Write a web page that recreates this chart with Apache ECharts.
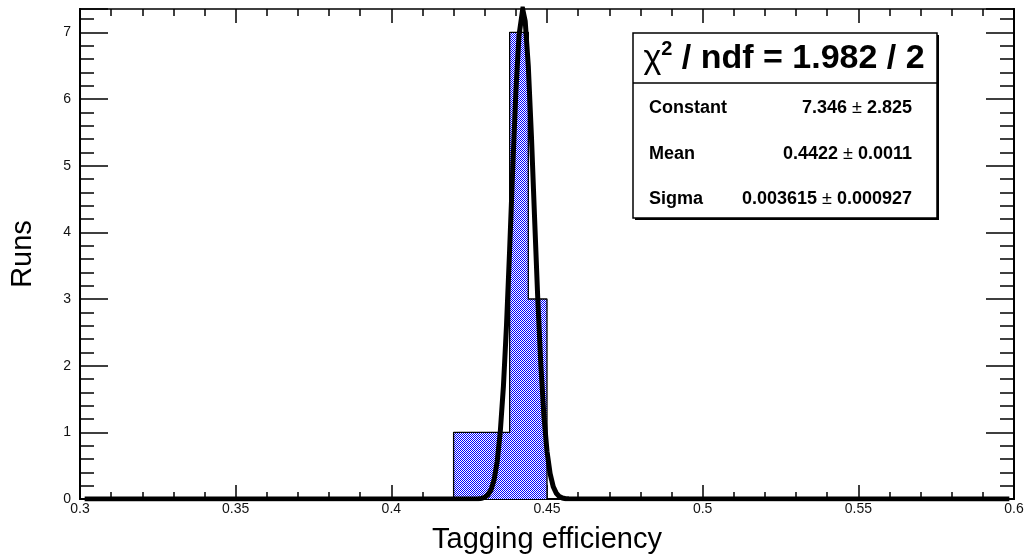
<!DOCTYPE html>
<html><head><meta charset="utf-8">
<script src="https://cdn.jsdelivr.net/npm/echarts@6/dist/echarts.min.js"></script>
<style>html,body{margin:0;padding:0;background:#fff}#c{width:1027px;height:557px}</style>
</head><body><div id="c"></div>
<script>
// ---- data ----
const xRange = [0.3, 0.6];
const yRange = [0, 7.35];
const binEdges = [0.420, 0.426, 0.432, 0.438, 0.444, 0.450];
const binCounts = [1, 1, 1, 7, 3];
const fitX = [0.3015, 0.428, 0.429, 0.430, 0.431, 0.432, 0.433, 0.434, 0.435, 0.436, 0.437, 0.438, 0.439, 0.440, 0.441, 0.4422, 0.443, 0.444, 0.445, 0.446, 0.447, 0.448, 0.449, 0.450, 0.451, 0.452, 0.453, 0.454, 0.455, 0.456, 0.457, 0.5985];
const fitY = [0, 0.003, 0.009, 0.025, 0.061, 0.137, 0.288, 0.561, 1.011, 1.687, 2.611, 3.741, 4.965, 6.104, 6.952, 7.346, 7.168, 6.489, 5.442, 4.228, 3.043, 2.028, 1.252, 0.716, 0.380, 0.186, 0.085, 0.036, 0.014, 0.005, 0.002, 0];
const xTitle = 'Tagging efficiency';
const yTitle = 'Runs';
const statsChi = '1.982 / 2';
const statsNames = ['Constant', 'Mean', 'Sigma'];
const statsValues = ['7.346', '0.4422', '0.003615'];
const statsErrors = ['2.825', '0.0011', '0.000927'];

// ---- rendering ----
const FONT = 'Liberation Sans, Arial, Helvetica, sans-serif';
const chart = echarts.init(document.getElementById('c'), null, {renderer: 'canvas'});

// checkered blue fill pattern
const pat = document.createElement('canvas');
pat.width = 2; pat.height = 2;
const pc = pat.getContext('2d');
pc.fillStyle = '#ffffff'; pc.fillRect(0, 0, 2, 2);
pc.fillStyle = '#0000ff'; pc.fillRect(0, 0, 1, 1); pc.fillRect(1, 1, 1, 1);

const histData = [[xRange[0], 0]];
for (let i = 0; i < binCounts.length; i++) histData.push([binEdges[i], binCounts[i]]);
histData.push([binEdges[binEdges.length - 1], 0]);
histData.push([xRange[1], 0]);
const fitData = fitX.map((x, i) => [x, fitY[i]]);

const G = {left: 80, right: 13, top: 9, bottom: 58, containLabel: false, outerBoundsMode: 'none'};
const black = '#000';
function xAx(grid, pos, showLabels, extra) {
  return Object.assign({
    type: 'value', gridIndex: grid, position: pos, min: xRange[0], max: xRange[1], interval: 0.05,
    axisLine: {show: true, onZero: false, lineStyle: {color: black, width: 2}},
    axisTick: {show: true, inside: true, length: 14, lineStyle: {color: black, width: 1.5}},
    minorTick: {show: true, splitNumber: 5, length: 7, lineStyle: {color: black, width: 1.5}},
    axisLabel: {show: showLabels, color: '#111', fontSize: 14, fontFamily: FONT, margin: 3},
    splitLine: {show: false}
  }, extra || {});
}
function yAx(grid, pos, interval, len, showLabels, extra) {
  return Object.assign({
    type: 'value', gridIndex: grid, position: pos, min: yRange[0], max: yRange[1], interval: interval,
    axisLine: {show: true, onZero: false, lineStyle: {color: black, width: 2}},
    axisTick: {show: true, inside: true, length: len, lineStyle: {color: black, width: 1.5}},
    axisLabel: {show: showLabels, color: '#111', fontSize: 14, fontFamily: FONT, margin: 9,
      formatter: v => (Math.abs(v - Math.round(v)) < 1e-9 ? String(Math.round(v)) : '')},
    splitLine: {show: false}
  }, extra || {});
}

const rowsY = [108, 154, 199];
const graphic = [
  {type: 'rect', shape: {x: 635, y: 35, width: 304, height: 185}, style: {fill: '#000'}, z: 100},
  {type: 'rect', shape: {x: 633, y: 33, width: 304, height: 185}, style: {fill: '#fff', stroke: '#000', lineWidth: 1.5}, z: 101},
  {type: 'line', shape: {x1: 633, y1: 83, x2: 937, y2: 83}, style: {stroke: '#000', lineWidth: 1.5}, z: 102},
  {type: 'text', x: 784, y: 59, z: 103, style: {
    text: '{c|χ}{s|2}{b| / ndf = ' + statsChi + '}', align: 'center', verticalAlign: 'middle',
    rich: {
      c: {fontSize: 34, fontFamily: FONT, fontWeight: 'normal', fill: '#000', lineHeight: 40},
      s: {fontSize: 20, fontFamily: FONT, fontWeight: 'bold', fill: '#000', verticalAlign: 'top', lineHeight: 40, padding: [0, 0, 12, 0]},
      b: {fontSize: 34, fontFamily: FONT, fontWeight: 'bold', fill: '#000', lineHeight: 40}
    }}}
];
statsNames.forEach((n, i) => {
  graphic.push({type: 'text', x: 649, y: rowsY[i], z: 103, style: {text: n, fontSize: 18, fontWeight: 'bold', fontFamily: FONT, fill: '#000', align: 'left', verticalAlign: 'middle'}});
  graphic.push({type: 'text', x: 912, y: rowsY[i], z: 103, style: {
    text: '{b|' + statsValues[i] + '}{p| ± }{b|' + statsErrors[i] + '}', align: 'right', verticalAlign: 'middle',
    rich: {b: {fontSize: 18, fontWeight: 'bold', fontFamily: FONT, fill: '#000'}, p: {fontSize: 18, fontWeight: 'normal', fontFamily: FONT, fill: '#000'}}
  }});
});

chart.setOption({
  animation: false,
  backgroundColor: '#fff',
  textStyle: {fontFamily: FONT},
  grid: [Object.assign({}, G), Object.assign({}, G)],
  xAxis: [
    xAx(0, 'bottom', true, {name: xTitle, nameLocation: 'middle', nameGap: 26, nameTextStyle: {fontSize: 29, color: black, fontFamily: FONT}}),
    xAx(0, 'top', false, {axisLine: {show: true, onZero: false, lineStyle: {color: black, width: 1.5}}}),
    {type: 'value', gridIndex: 1, min: xRange[0], max: xRange[1], show: false}
  ],
  yAxis: [
    yAx(0, 'left', 1, 28, true, {name: yTitle, nameLocation: 'middle', nameGap: 43, nameRotate: 90, nameTextStyle: {fontSize: 29, color: black, fontFamily: FONT}}),
    yAx(0, 'right', 1, 28, false),
    yAx(1, 'left', 0.2, 14, false),
    yAx(1, 'right', 0.2, 14, false)
  ],
  series: [
    {type: 'line', xAxisIndex: 0, yAxisIndex: 0, data: histData, step: 'end', showSymbol: false, symbol: 'none',
      lineStyle: {color: '#000', width: 1.3}, areaStyle: {color: {image: pat, repeat: 'repeat'}, opacity: 1}, z: 2},
    {type: 'line', xAxisIndex: 0, yAxisIndex: 0, data: fitData, showSymbol: false, symbol: 'none',
      lineStyle: {color: '#000', width: 5, join: 'miter'}, z: 3}
  ],
  graphic: graphic
});
</script>
</body></html>
